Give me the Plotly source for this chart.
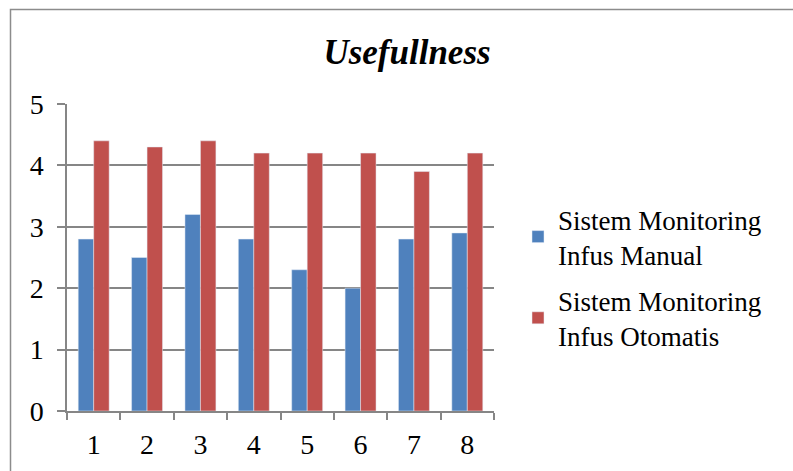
import plotly.graph_objects as go

categories = ["1", "2", "3", "4", "5", "6", "7", "8"]
manual = [2.8, 2.5, 3.2, 2.8, 2.3, 2.0, 2.8, 2.9]
otomatis = [4.4, 4.3, 4.4, 4.2, 4.2, 4.2, 3.9, 4.2]
series_names = ["Sistem Monitoring<br>Infus Manual", "Sistem Monitoring<br>Infus Otomatis"]
title_text = "Usefullness"

W, H = 793, 471
L, R, T, B = 67, 494, 104, 411
pw, ph = R - L, B - T

def px2x(p):
    return (p - L) / pw

def py2y(p):
    return (B - p) / ph

FONT = "Liberation Serif"
GRID = "#868686"

fig = go.Figure()
fig.add_bar(x=categories, y=manual, name=series_names[0], marker_color="#4F81BD",
            legendgroup="a")
fig.add_bar(x=categories, y=otomatis, name=series_names[1], marker_color="#C0504D",
            legendgroup="b")

fig.update_layout(
    width=W, height=H,
    margin=dict(l=L, r=W - R, t=T, b=H - B, autoexpand=False),
    paper_bgcolor="white", plot_bgcolor="white",
    barmode="group", bargap=0.42, bargroupgap=0,
    font=dict(family=FONT, size=28, color="black"),
    title=dict(text="<b><i>" + title_text + "</i></b>", x=px2x(407), xref="paper",
               xanchor="center", y=1 - 52 / H, yref="container", yanchor="middle",
               font=dict(family=FONT, size=35, color="black")),
    xaxis=dict(type="category", showline=True, linecolor=GRID, linewidth=1.5,
               ticks="outside", tickson="boundaries", ticklen=7, tickcolor=GRID,
               tickwidth=1.5, showgrid=False, tickfont=dict(size=28),
               ticklabelstandoff=8),
    yaxis=dict(range=[0, 5], dtick=1, showline=True, linecolor=GRID, linewidth=1.5,
               ticks="outside", ticklen=8, tickcolor=GRID, tickwidth=1.5,
               showgrid=True, gridcolor=GRID, gridwidth=1.5, zeroline=False,
               tickfont=dict(size=28), ticklabelstandoff=8),
    legend=dict(x=px2x(518), xanchor="left", y=py2y(195), yanchor="top",
                font=dict(family=FONT, size=27), tracegroupgap=8,
                bgcolor="rgba(0,0,0,0)", itemwidth=30),
    showlegend=True,
    shapes=[dict(type="rect", xref="paper", yref="paper",
                 x0=px2x(10.5), x1=px2x(900), y0=py2y(600), y1=py2y(9.5),
                 line=dict(color="#8c8c8c", width=1.5), fillcolor="rgba(0,0,0,0)",
                 layer="below")],
)

fig.write_html("out.html")
